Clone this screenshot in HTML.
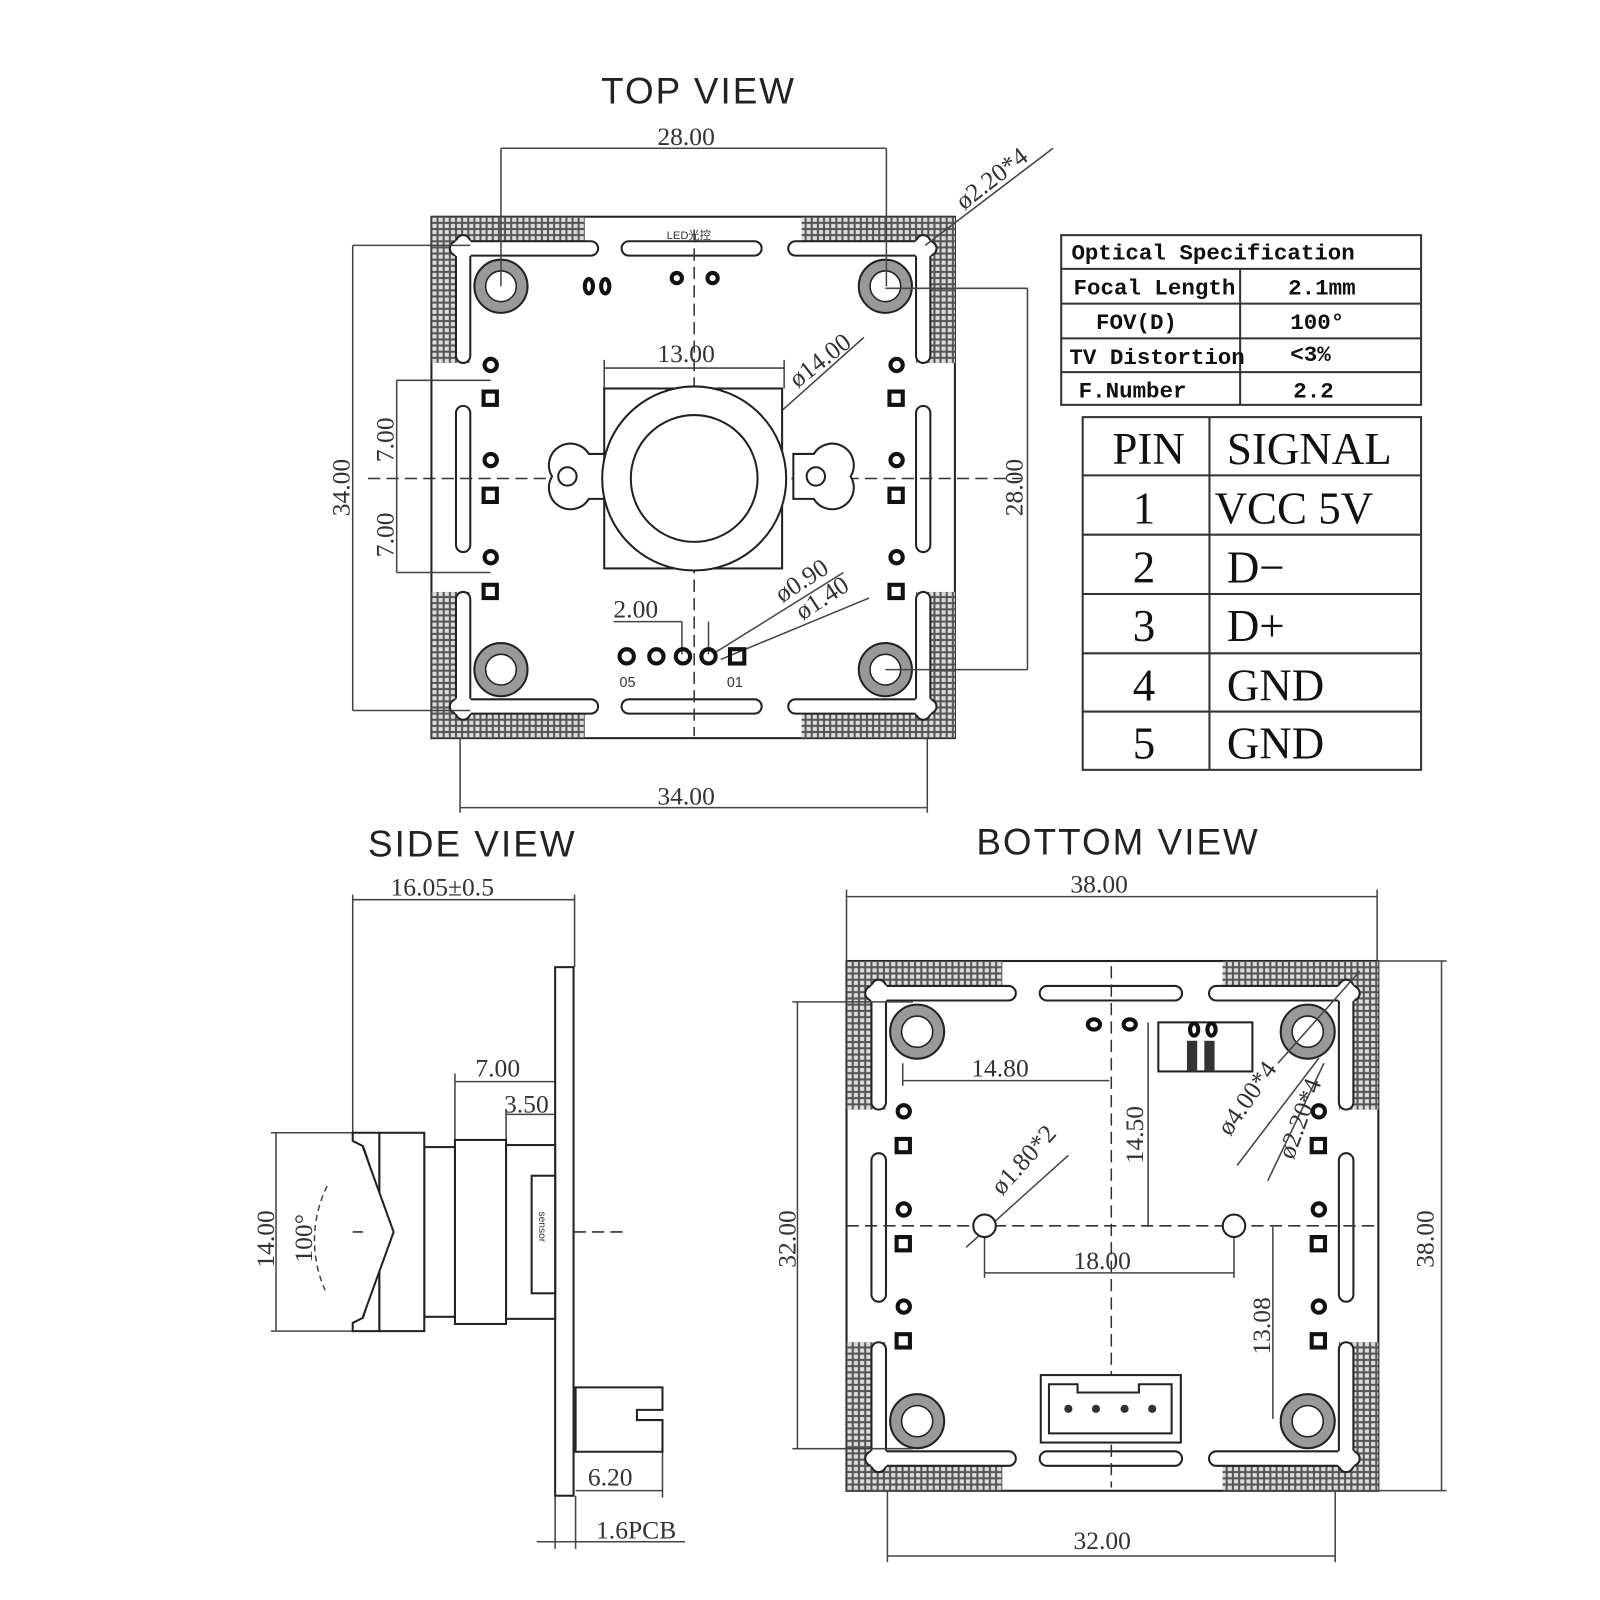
<!DOCTYPE html>
<html><head><meta charset="utf-8"><style>
html,body{margin:0;padding:0;background:#fff}
svg{display:block}
.d{font-family:"Liberation Serif",serif;font-size:25px;fill:#333}
.t{font-family:"Liberation Sans",sans-serif;font-size:36px;fill:#222;letter-spacing:2px}
.m{font-family:"Liberation Mono",monospace;font-size:22px;fill:#111;font-weight:bold}
.p{font-family:"Liberation Serif",serif;font-size:44px;fill:#111}
</style></head><body>
<svg width="1600" height="1600" viewBox="0 0 1565 1565" xmlns="http://www.w3.org/2000/svg">
<defs>
<pattern id="h" width="6" height="6" patternUnits="userSpaceOnUse">
<rect width="6" height="6" fill="#555"/><rect x="1" y="1" width="4" height="4" fill="#ddd"/>
</pattern>
<g id="frame">
<rect x="0" y="0" width="512" height="510" fill="#fff" stroke="#222" stroke-width="2"/>
<rect x="0" y="0" width="150" height="30" fill="url(#h)"/><rect x="0" y="0" width="38" height="143" fill="url(#h)"/>
<rect x="362" y="0" width="150" height="30" fill="url(#h)"/><rect x="474" y="0" width="38" height="143" fill="url(#h)"/>
<rect x="0" y="480" width="150" height="30" fill="url(#h)"/><rect x="0" y="367" width="38" height="143" fill="url(#h)"/>
<rect x="362" y="480" width="150" height="30" fill="url(#h)"/><rect x="474" y="367" width="38" height="143" fill="url(#h)"/>
<g fill="#fff" stroke="#222" stroke-width="2">
<rect x="18" y="24" width="145" height="14" rx="7"/><rect x="186" y="24" width="137" height="14" rx="7"/><rect x="349" y="24" width="145" height="14" rx="7"/>
<rect x="18" y="472" width="145" height="14" rx="7"/><rect x="186" y="472" width="137" height="14" rx="7"/><rect x="349" y="472" width="145" height="14" rx="7"/>
<rect x="24" y="18" width="14" height="125" rx="7"/><rect x="24" y="185" width="14" height="143" rx="7"/><rect x="24" y="367" width="14" height="125" rx="7"/>
<rect x="474" y="18" width="14" height="125" rx="7"/><rect x="474" y="185" width="14" height="143" rx="7"/><rect x="474" y="367" width="14" height="125" rx="7"/>
</g>
<g fill="#fff"><circle cx="31" cy="31" r="10"/><circle cx="481" cy="31" r="10"/><circle cx="31" cy="479" r="10"/><circle cx="481" cy="479" r="10"/>
<rect x="26" y="26" width="10" height="110"/><rect x="26" y="26" width="130" height="10"/><rect x="476" y="26" width="10" height="110"/><rect x="356" y="26" width="130" height="10"/>
<rect x="26" y="374" width="10" height="110"/><rect x="26" y="474" width="130" height="10"/><rect x="476" y="374" width="10" height="110"/><rect x="356" y="474" width="130" height="10"/></g>
<g fill="#999" stroke="#222" stroke-width="2">
<circle cx="68" cy="68" r="26"/><circle cx="444" cy="68" r="26"/><circle cx="68" cy="443" r="26"/><circle cx="444" cy="443" r="26"/></g>
<g fill="#fff" stroke="#222" stroke-width="1.5">
<circle cx="68" cy="68" r="15"/><circle cx="444" cy="68" r="15"/><circle cx="68" cy="443" r="15"/><circle cx="444" cy="443" r="15"/></g>
</g>
</defs>

<!-- TOP VIEW -->
<text class="t" x="588" y="101">TOP VIEW</text>
<use href="#frame" x="422" y="212"/>
<g stroke="#444" stroke-width="1.5" fill="none">
<line x1="490" y1="145" x2="867" y2="145"/><line x1="490" y1="145" x2="490" y2="280"/><line x1="867" y1="145" x2="867" y2="280"/>
<line x1="345" y1="240" x2="345" y2="695"/><line x1="345" y1="240" x2="460" y2="240"/><line x1="345" y1="695" x2="460" y2="695"/>
<line x1="388" y1="372" x2="388" y2="560"/><line x1="388" y1="372" x2="480" y2="372"/><line x1="388" y1="560" x2="480" y2="560"/>
<line x1="1005" y1="282" x2="1005" y2="655"/><line x1="866" y1="282" x2="1005" y2="282"/><line x1="866" y1="655" x2="1005" y2="655"/>
<line x1="450" y1="790" x2="907" y2="790"/><line x1="450" y1="722" x2="450" y2="795"/><line x1="907" y1="722" x2="907" y2="795"/>
<line x1="591" y1="360" x2="767" y2="360"/><line x1="591" y1="352" x2="591" y2="380"/><line x1="767" y1="352" x2="767" y2="380"/>
<line x1="593" y1="555" x2="845" y2="330"/>
<line x1="905" y1="240" x2="1030" y2="145"/>
<line x1="600" y1="608" x2="667" y2="608"/><line x1="667" y1="608" x2="667" y2="640"/><line x1="693" y1="608" x2="693" y2="640"/>
<line x1="700" y1="638" x2="825" y2="560"/><line x1="705" y1="645" x2="850" y2="585"/>
</g>
<g stroke="#333" stroke-width="1.5" stroke-dasharray="12,6"><line x1="360" y1="468" x2="1000" y2="468"/><line x1="679" y1="225" x2="679" y2="720"/></g>
<g fill="#fff" stroke="#222" stroke-width="2">
<path d="M540 466 a18 18 0 0 1 36-22 h20 v44 h-20 a18 18 0 0 1 -36 -22z"/>
<path d="M832 466 a18 18 0 0 0 -36-22 h-20 v44 h20 a18 18 0 0 0 36 -22z"/>
<rect x="591" y="380" width="174" height="176"/>
<circle cx="679" cy="468" r="90"/><circle cx="679" cy="468" r="62"/>
<circle cx="555" cy="466" r="9"/><circle cx="798" cy="466" r="9"/>
</g>
<g fill="none" stroke="#111" stroke-width="4">
<circle cx="480" cy="357" r="6"/><circle cx="480" cy="450" r="6"/><circle cx="480" cy="545" r="6"/>
<circle cx="877" cy="357" r="6"/><circle cx="877" cy="450" r="6"/><circle cx="877" cy="545" r="6"/>
<rect x="473" y="383" width="13" height="13"/><rect x="473" y="478" width="13" height="13"/><rect x="473" y="572" width="13" height="13"/>
<rect x="870" y="383" width="13" height="13"/><rect x="870" y="478" width="13" height="13"/><rect x="870" y="572" width="13" height="13"/>
<circle cx="613" cy="642" r="7"/><circle cx="642" cy="642" r="7"/><circle cx="668" cy="642" r="7"/><circle cx="693" cy="642" r="7"/><rect x="714" y="635" width="14" height="14"/>
<ellipse cx="576" cy="280" rx="4" ry="7"/><ellipse cx="592" cy="280" rx="4" ry="7"/><circle cx="662" cy="272" r="5"/><circle cx="697" cy="272" r="5"/>
</g>
<text x="652" y="234" font-family="Liberation Sans,sans-serif" font-size="11" fill="#333">LED光控</text>
<text x="606" y="672" font-family="Liberation Sans,sans-serif" font-size="14" fill="#333">05</text>
<text x="711" y="672" font-family="Liberation Sans,sans-serif" font-size="14" fill="#333">01</text>
<text class="d" x="643" y="142">28.00</text>
<text class="d" x="643" y="354">13.00</text>
<text class="d" x="643" y="787">34.00</text>
<text class="d" x="600" y="604">2.00</text>
<text class="d" transform="translate(780,380) rotate(-38)">ø14.00</text>
<text class="d" transform="translate(943,206) rotate(-38)">ø2.20*4</text>
<text class="d" transform="translate(765,590) rotate(-33)">ø0.90</text>
<text class="d" transform="translate(785,607) rotate(-33)">ø1.40</text>
<text class="d" transform="translate(342,505) rotate(-90)">34.00</text>
<text class="d" transform="translate(385,452) rotate(-90)">7.00</text>
<text class="d" transform="translate(385,545) rotate(-90)">7.00</text>
<text class="d" transform="translate(1000,505) rotate(-90)">28.00</text>

<!-- TABLES -->
<g stroke="#333" stroke-width="2" fill="none">
<rect x="1038" y="230" width="352" height="166"/>
<line x1="1038" y1="263" x2="1390" y2="263"/><line x1="1038" y1="297" x2="1390" y2="297"/><line x1="1038" y1="331" x2="1390" y2="331"/><line x1="1038" y1="364" x2="1390" y2="364"/>
<line x1="1213" y1="263" x2="1213" y2="396"/>
<rect x="1059" y="408" width="331" height="345"/>
<line x1="1059" y1="465" x2="1390" y2="465"/><line x1="1059" y1="523" x2="1390" y2="523"/><line x1="1059" y1="581" x2="1390" y2="581"/><line x1="1059" y1="639" x2="1390" y2="639"/><line x1="1059" y1="696" x2="1390" y2="696"/>
<line x1="1183" y1="408" x2="1183" y2="753"/>
</g>
<text class="m" x="1048" y="254">Optical Specification</text>
<text class="m" x="1050" y="288">Focal Length</text><text class="m" x="1260" y="288">2.1mm</text>
<text class="m" x="1072" y="322">FOV(D)</text><text class="m" x="1262" y="322">100°</text>
<text class="m" x="1046" y="356">TV Distortion</text><text class="m" x="1262" y="353">&lt;3%</text>
<text class="m" x="1055" y="389">F.Number</text><text class="m" x="1265" y="389">2.2</text>
<text class="p" x="1088" y="454" font-size="40">PIN</text><text class="p" x="1200" y="454" font-size="40">SIGNAL</text>
<text class="p" x="1108" y="512">1</text><text class="p" x="1188" y="512">VCC 5V</text>
<text class="p" x="1108" y="570">2</text><text class="p" x="1200" y="570">D−</text>
<text class="p" x="1108" y="627">3</text><text class="p" x="1200" y="627">D+</text>
<text class="p" x="1108" y="685">4</text><text class="p" x="1200" y="685">GND</text>
<text class="p" x="1108" y="742">5</text><text class="p" x="1200" y="742">GND</text>

<!-- SIDE VIEW -->
<text class="t" x="360" y="838">SIDE VIEW</text>
<g stroke="#444" stroke-width="1.5" fill="none">
<line x1="345" y1="880" x2="562" y2="880"/><line x1="345" y1="875" x2="345" y2="1108"/><line x1="562" y1="875" x2="562" y2="946"/>
<line x1="445" y1="1058" x2="543" y2="1058"/><line x1="445" y1="1050" x2="445" y2="1115"/><line x1="543" y1="1050" x2="543" y2="1115"/>
<line x1="495" y1="1090" x2="543" y2="1090"/><line x1="495" y1="1085" x2="495" y2="1120"/>
<line x1="270" y1="1108" x2="270" y2="1302"/><line x1="265" y1="1108" x2="371" y2="1108"/><line x1="265" y1="1302" x2="371" y2="1302"/>
<line x1="563" y1="1458" x2="648" y2="1458"/><line x1="648" y1="1420" x2="648" y2="1465"/><line x1="563" y1="1463" x2="563" y2="1515"/>
<line x1="543" y1="1463" x2="543" y2="1515"/><line x1="525" y1="1508" x2="670" y2="1508"/>
<path d="M320 1160 A120 120 0 0 0 318 1262" stroke-dasharray="6,4"/>
</g>
<line x1="345" y1="1205" x2="615" y2="1205" stroke="#333" stroke-width="1.5" stroke-dasharray="12,6"/>
<g fill="#fff" stroke="#222" stroke-width="2">
<rect x="543" y="946" width="18" height="517"/>
<rect x="445" y="1115" width="50" height="180"/>
<rect x="495" y="1120" width="48" height="170"/>
<rect x="415" y="1122" width="30" height="166"/>
<rect x="371" y="1108" width="44" height="194"/>
<path d="M345 1108 h26 v194 h-26 v-8 l10 -5 q30 -90 0 -168 l-10 -5z"/>
<path d="M355 1122 L385 1205 L355 1288"/>
<rect x="520" y="1150" width="23" height="115"/>
<path d="M563 1357 h85 v22 h-25 v10 h25 v31 h-85z"/>
</g>
<text x="527" y="1185" font-family="Liberation Sans,sans-serif" font-size="10" fill="#333" transform="rotate(90 527 1185)">sensor</text>
<text class="d" x="382" y="876">16.05±0.5</text>
<text class="d" x="465" y="1053">7.00</text>
<text class="d" x="493" y="1088" font-size="21">3.50</text>
<text class="d" x="575" y="1453">6.20</text>
<text class="d" x="583" y="1505">1.6PCB</text>
<text class="d" transform="translate(268,1240) rotate(-90)">14.00</text>
<text class="d" transform="translate(305,1235) rotate(-90)">100°</text>

<!-- BOTTOM VIEW -->
<text class="t" x="955" y="836">BOTTOM  VIEW</text>
<use href="#frame" transform="translate(828,940) scale(1.016)"/>
<g stroke="#444" stroke-width="1.5" fill="none">
<line x1="828" y1="877" x2="1347" y2="877"/><line x1="828" y1="870" x2="828" y2="940"/><line x1="1347" y1="870" x2="1347" y2="940"/>
<line x1="1410" y1="940" x2="1410" y2="1458"/><line x1="1348" y1="940" x2="1415" y2="940"/><line x1="1348" y1="1458" x2="1415" y2="1458"/>
<line x1="780" y1="980" x2="780" y2="1417"/><line x1="775" y1="980" x2="893" y2="980"/><line x1="775" y1="1417" x2="893" y2="1417"/>
<line x1="868" y1="1522" x2="1306" y2="1522"/><line x1="868" y1="1458" x2="868" y2="1528"/><line x1="1306" y1="1458" x2="1306" y2="1528"/>
<line x1="883" y1="1057" x2="1085" y2="1057"/><line x1="883" y1="1040" x2="883" y2="1062"/>
<line x1="1123" y1="1000" x2="1123" y2="1200"/>
<line x1="963" y1="1245" x2="1207" y2="1245"/><line x1="963" y1="1200" x2="963" y2="1250"/><line x1="1207" y1="1200" x2="1207" y2="1250"/>
<line x1="1245" y1="1200" x2="1245" y2="1388"/>
<line x1="945" y1="1220" x2="1045" y2="1130"/>
<line x1="1210" y1="1140" x2="1290" y2="1035"/><line x1="1240" y1="1155" x2="1295" y2="1040"/>
<line x1="1250" y1="1040" x2="1330" y2="950"/>
</g>
<g stroke="#333" stroke-width="1.5" stroke-dasharray="12,6"><line x1="828" y1="1199" x2="1347" y2="1199"/><line x1="1087" y1="945" x2="1087" y2="1455"/></g>
<g fill="#fff" stroke="#222" stroke-width="2">
<circle cx="963" cy="1199" r="11"/><circle cx="1207" cy="1199" r="11"/>
<rect x="1133" y="1000" width="92" height="48"/>
<rect x="1018" y="1345" width="137" height="66"/>
<path d="M1026 1354 h28 v8 h60 v-8 h32 v48 h-120z"/>
</g>
<g fill="none" stroke="#111" stroke-width="4">
<circle cx="884" cy="1087" r="6"/><circle cx="884" cy="1183" r="6"/><circle cx="884" cy="1278" r="6"/>
<circle cx="1290" cy="1087" r="6"/><circle cx="1290" cy="1183" r="6"/><circle cx="1290" cy="1278" r="6"/>
<rect x="877" y="1114" width="13" height="13"/><rect x="877" y="1210" width="13" height="13"/><rect x="877" y="1305" width="13" height="13"/>
<rect x="1283" y="1114" width="13" height="13"/><rect x="1283" y="1210" width="13" height="13"/><rect x="1283" y="1305" width="13" height="13"/>
<ellipse cx="1070" cy="1002" rx="6" ry="5"/><ellipse cx="1105" cy="1002" rx="6" ry="5"/>
<ellipse cx="1168" cy="1007" rx="4" ry="6"/><ellipse cx="1185" cy="1007" rx="4" ry="6"/>
</g>
<g fill="#333"><circle cx="1045" cy="1378" r="4"/><circle cx="1072" cy="1378" r="4"/><circle cx="1100" cy="1378" r="4"/><circle cx="1127" cy="1378" r="4"/>
<rect x="1161" y="1018" width="10" height="30"/><rect x="1178" y="1018" width="10" height="30"/></g>
<text class="d" x="1047" y="873">38.00</text>
<text class="d" x="950" y="1053">14.80</text>
<text class="d" x="1050" y="1241">18.00</text>
<text class="d" x="1050" y="1515">32.00</text>
<text class="d" transform="translate(1118,1138) rotate(-90)">14.50</text>
<text class="d" transform="translate(1242,1325) rotate(-90)">13.08</text>
<text class="d" transform="translate(778,1240) rotate(-90)">32.00</text>
<text class="d" transform="translate(1402,1240) rotate(-90)">38.00</text>
<text class="d" font-size="21" transform="translate(980,1170) rotate(-48)">ø1.80*2</text>
<text class="d" font-size="21" transform="translate(1203,1112) rotate(-55)">ø4.00*4</text>
<text class="d" font-size="21" transform="translate(1265,1135) rotate(-70)">ø2.20*4</text>
</svg>
</body></html>
